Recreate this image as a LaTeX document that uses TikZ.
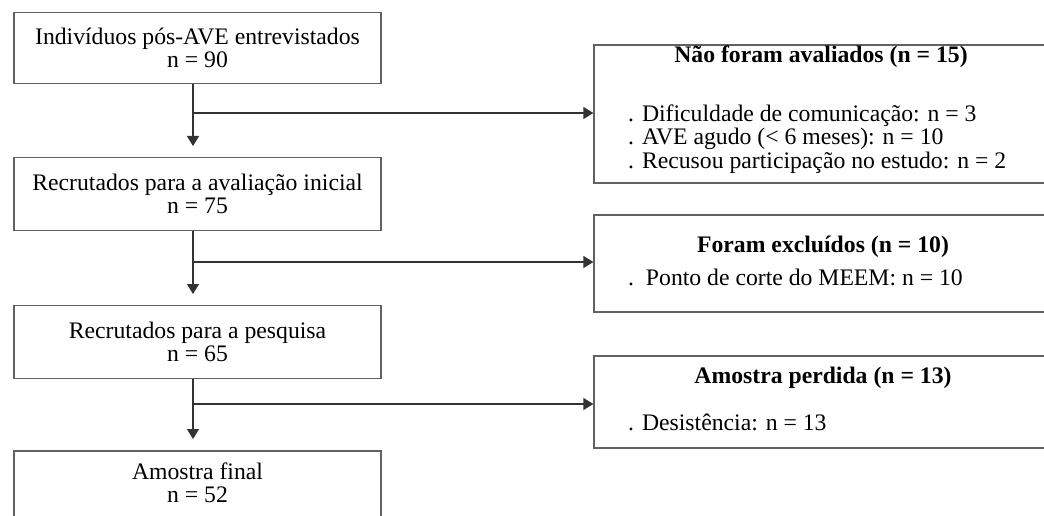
\documentclass[tikz,border=0pt]{standalone}
\usepackage{fontspec}
\setmainfont{Liberation Serif}
\usetikzlibrary{arrows.meta}
\begin{document}
\begin{tikzpicture}[x=1pt,y=-1pt,
  lbox/.style={draw=black!62,line width=1.3pt,minimum width=367pt,inner sep=0pt,align=center,font=\fontsize{23.7}{22.5}\selectfont},
  ltxt/.style={inner sep=0pt,align=center,font=\fontsize{23.7}{22.5}\selectfont},
  rbox/.style={draw=black!62,line width=1.3pt,minimum width=454pt,inner sep=0pt},
  ttl/.style={inner sep=0pt,anchor=base,font=\fontsize{23.7}{23}\selectfont\bfseries},
  itm/.style={inner sep=0pt,anchor=base west,align=left,font=\fontsize{23.7}{23.5}\selectfont},
  conn/.style={draw=black!80,line width=1.3pt},
  arr/.style={conn,-{Triangle[width=12pt,length=10pt]}}]
\useasboundingbox (0,0) rectangle (1044,516);
\clip (0,0) rectangle (1044,516);
\node[lbox,minimum height=71pt] (b1) at (197.5,48) {Indivíduos pós-AVE entrevistados\\n = 90};
\node[lbox,minimum height=73pt] (b2) at (197.5,194) {Recrutados para a avaliação inicial\\n = 75};
\node[lbox,minimum height=73pt] (b3) at (197.5,342) {Recrutados para a pesquisa\\n = 65};
\node[lbox,minimum height=80pt] (b4) at (197.5,491) {};
\node[ltxt] (b4t) at (197.5,483) {Amostra final\\n = 52};
\node[rbox,minimum height=138pt] (r1) at (821,114) {};
\node[rbox,minimum height=97pt] (r2) at (821,263.5) {};
\node[rbox,minimum height=92pt] (r3) at (821,402) {};
\node[ttl] (t1) at (821,63) {Não foram avaliados (n = 15)};
\node[itm] (i1) at (628,168) {. Dificuldade de comunicação: n = 3\\. AVE agudo (< 6 meses): n = 10\\. Recusou participação no estudo: n = 2};
\node[ttl] (t2) at (823,252) {Foram excluídos (n = 10)};
\node[itm] (i2) at (628,285) {.\ \ Ponto de corte do MEEM: n = 10};
\node[ttl] (t3) at (823,383) {Amostra perdida (n = 13)};
\node[itm] (i3) at (628,430) {. Desistência: n = 13};
\coordinate (ax) at (193,0);
\coordinate (e1) at (193,146);
\coordinate (e2) at (193,294);
\coordinate (e3) at (193,439);
\coordinate (j1) at (193,113);
\coordinate (j2) at (193,262);
\coordinate (j3) at (193,404);
\draw[arr] (b1.south -| ax) -- (e1);
\draw[arr] (b2.south -| ax) -- (e2);
\draw[arr] (b3.south -| ax) -- (e3);
\draw[arr] (j1) -- (j1 -| r1.west);
\draw[arr] (j2) -- (j2 -| r2.west);
\draw[arr] (j3) -- (j3 -| r3.west);
\end{tikzpicture}
\end{document}
